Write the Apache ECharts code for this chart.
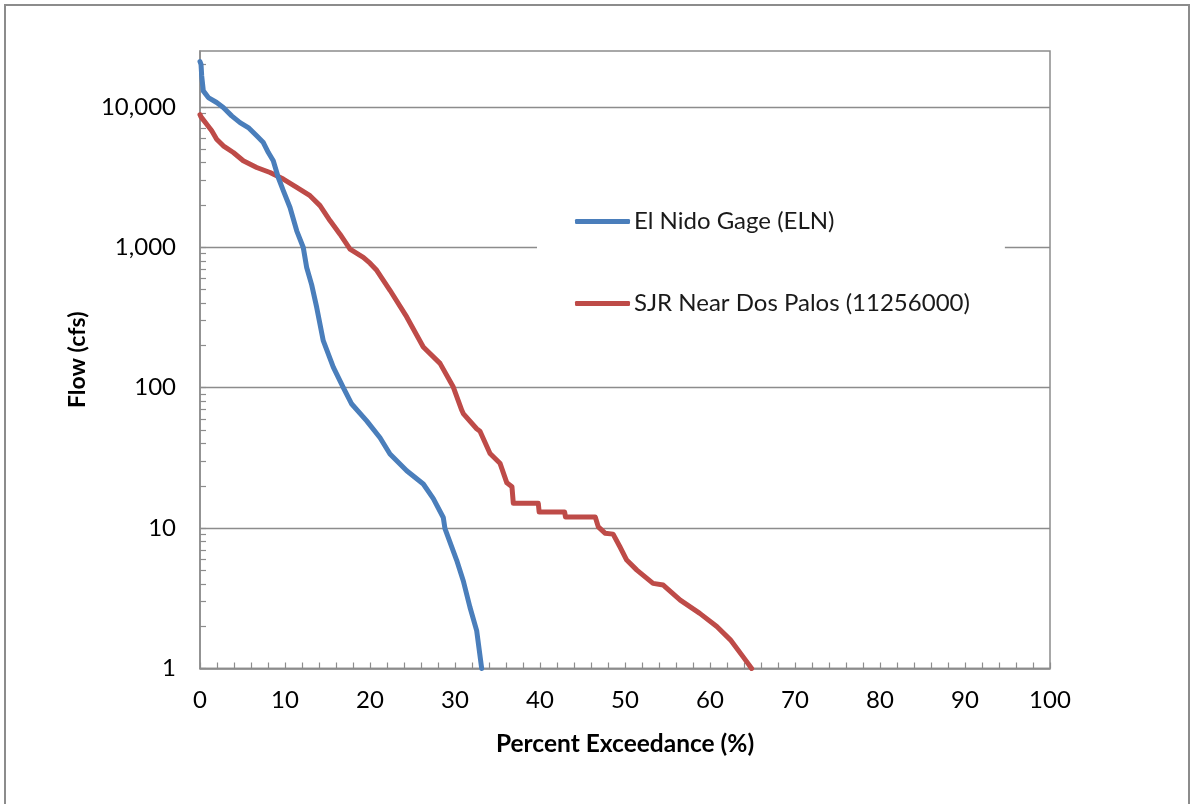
<!DOCTYPE html>
<html>
<head>
<meta charset="utf-8">
<script src="https://cdn.jsdelivr.net/npm/echarts@6/dist/echarts.min.js"></script>
<style>
  html, body { margin: 0; padding: 0; background: #fff; }
  #wrap { position: relative; width: 1194px; height: 804px; overflow: hidden; }
  #frame { position: absolute; left: 4px; top: 4px; width: 1186px; height: 840px; border: 2px solid #8c8c8c; box-sizing: border-box; }
  #chart { position: absolute; left: 0; top: 0; width: 1194px; height: 804px; }
</style>
</head>
<body>
<div id="wrap">
  <div id="frame"></div>
  <div id="chart"></div>
</div>
<script>
// ---- data (percent exceedance, flow cfs) ----
const seriesNames = ['El Nido Gage (ELN)', 'SJR Near Dos Palos (11256000)'];
const elNidoPct  = [0, 0.12, 0.2, 0.39, 0.98, 1.96, 2.74, 3.73, 4.71, 5.68, 6.67, 7.45, 8.04, 8.62, 9.21, 9.8, 10.59, 11.38, 12.15, 12.55, 13.14, 13.73, 14.5, 15.68, 16.86, 17.85, 19.61, 21.18, 22.35, 24.32, 26.27, 27.45, 28.62, 28.82, 30.2, 30.98, 31.76, 32.55, 33.14];
const elNidoFlow = [21000, 20100, 16600, 13000, 11650, 10740, 9890, 8630, 7730, 7120, 6220, 5570, 4730, 4130, 3140, 2530, 1920, 1310, 997, 718, 540, 373, 216, 140, 100, 76.5, 58, 44, 33.7, 25.6, 20.6, 16.2, 11.9, 9.9, 5.9, 4.2, 2.73, 1.86, 1];
const sjrPct  = [0, 0.12, 0.79, 1.38, 1.96, 2.74, 3.92, 5.09, 6.67, 8.24, 9.8, 11.38, 12.94, 14.12, 15.29, 16.47, 17.65, 19.21, 20.0, 20.79, 22.35, 24.32, 26.27, 28.24, 29.8, 30.8, 31.0, 32.55, 32.94, 34.12, 35.29, 36.1, 36.7, 36.86, 39.8, 39.9, 42.9, 43.0, 46.5, 46.86, 47.65, 48.6, 49.4, 50.2, 51.4, 53.3, 54.5, 56.5, 58.8, 60.8, 62.4, 63.9, 64.9];
const sjrFlow = [8800, 8490, 7530, 6750, 5890, 5280, 4730, 4130, 3700, 3410, 3060, 2670, 2330, 1980, 1550, 1240, 970, 847, 770, 686, 494, 319, 195, 149, 101, 69, 65, 51, 49, 34, 29, 21, 19.7, 15, 15, 13, 13, 12, 12, 10.2, 9.2, 9.06, 7.36, 5.92, 5.02, 4.04, 3.93, 3.07, 2.47, 1.99, 1.6, 1.21, 1];
const yMajorTicks = [1, 10, 100, 1000, 10000];
const yMinorMultipliers = [2, 3, 4, 5, 6, 7, 8, 9];
const xTicks = [0, 10, 20, 30, 40, 50, 60, 70, 80, 90, 100];

const yMinorTicks = [];
yMajorTicks.forEach(function (d) {
  yMinorMultipliers.forEach(function (m) { if (d * m <= 25000) yMinorTicks.push(d * m); });
});

const FONT = 'Lato';
const chart = echarts.init(document.getElementById('chart'), null, { renderer: 'canvas' });
const option = {
  backgroundColor: 'transparent',
  animation: false,
  grid: {
    left: 200, right: 144, top: 51, bottom: 135.5,
    show: true, borderColor: '#8c8c8c', borderWidth: 1.5, backgroundColor: 'transparent'
  },
  legend: {
    orient: 'vertical',
    left: 537, top: 189,
    padding: [20, 35, 20, 38],
    backgroundColor: '#ffffff',
    itemWidth: 55, itemHeight: 5, itemGap: 57,
    icon: 'roundRect',
    textStyle: { fontFamily: FONT, fontSize: 24, color: '#1a1a1a', lineHeight: 25, padding: [0, 0, 0, -1] },
    data: seriesNames
  },
  xAxis: {
    type: 'value', min: 0, max: 100, interval: 10,
    name: 'Percent Exceedance (%)', nameLocation: 'middle', nameGap: 63,
    nameTextStyle: { fontFamily: FONT, fontSize: 24.5, fontWeight: 'bold', color: '#000' },
    axisLine: { show: true, lineStyle: { color: '#8c8c8c', width: 1.5 } },
    axisTick: { show: true, inside: true, length: 6, lineStyle: { color: '#8c8c8c', width: 1.2 } },
    minorTick: { show: true, splitNumber: 5, length: 6, lineStyle: { color: '#8c8c8c', width: 1.2 } },
    axisLabel: { fontFamily: FONT, fontSize: 24, color: '#000', margin: 20,
      customValues: xTicks },
    splitLine: { show: false }
  },
  yAxis: [
    {
      type: 'log', logBase: 10, min: 1, max: 25000,
      name: 'Flow (cfs)', nameLocation: 'middle', nameGap: 111, nameRotate: 90,
      nameTextStyle: { fontFamily: FONT, fontSize: 23, fontWeight: 'bold', color: '#000' },
      axisLine: { show: true, lineStyle: { color: '#8c8c8c', width: 1.5 } },
      axisTick: { show: true, inside: true, length: 6, customValues: yMajorTicks, lineStyle: { color: '#8c8c8c', width: 1.2 } },
      axisLabel: {
        fontFamily: FONT, fontSize: 24, color: '#000', margin: 24,
        customValues: yMajorTicks,
        formatter: function (v) { return Math.round(v).toLocaleString('en-US'); }
      },
      splitLine: { show: true, lineStyle: { color: '#8c8c8c', width: 1.3 } }
    },
    {
      type: 'log', logBase: 10, min: 1, max: 25000, position: 'left',
      axisLine: { show: false },
      axisTick: { show: true, inside: true, length: 6, customValues: yMinorTicks, lineStyle: { color: '#8c8c8c', width: 1.2 } },
      axisLabel: { show: false },
      splitLine: { show: false }
    }
  ],
  series: [
    {
      name: seriesNames[0], type: 'line', showSymbol: false, symbol: 'none',
      color: '#4A7EBB',
      lineStyle: { color: '#4A7EBB', width: 5, cap: 'round', join: 'round' },
      itemStyle: { color: '#4A7EBB' },
      data: elNidoPct.map(function (p, i) { return [p, elNidoFlow[i]]; }),
      z: 3
    },
    {
      name: seriesNames[1], type: 'line', showSymbol: false, symbol: 'none',
      color: '#BE4B48',
      lineStyle: { color: '#BE4B48', width: 5, cap: 'round', join: 'round' },
      itemStyle: { color: '#BE4B48' },
      data: sjrPct.map(function (p, i) { return [p, sjrFlow[i]]; }),
      z: 2
    }
  ]
};
chart.setOption(option);
</script>
</body>
</html>
